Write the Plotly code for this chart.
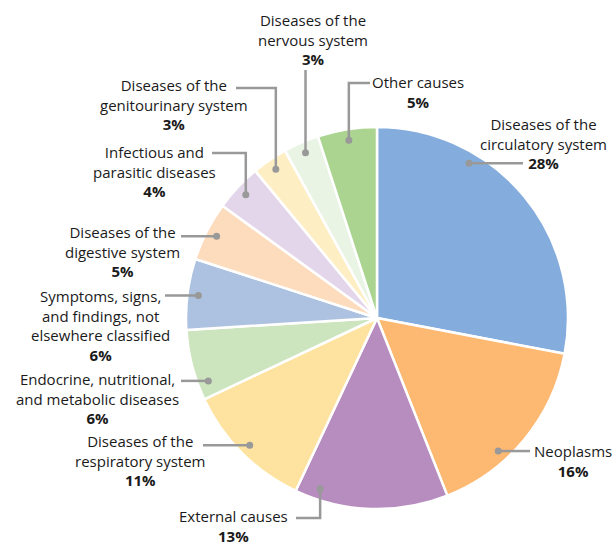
import math
import plotly.graph_objects as go

# ---------------- data ----------------
labels = [
    "Diseases of the circulatory system",
    "Neoplasms",
    "External causes",
    "Diseases of the respiratory system",
    "Endocrine, nutritional, and metabolic diseases",
    "Symptoms, signs, and findings, not elsewhere classified",
    "Diseases of the digestive system",
    "Infectious and parasitic diseases",
    "Diseases of the genitourinary system",
    "Diseases of the nervous system",
    "Other causes",
]
label_lines = [
    "Diseases of the<br>circulatory system",
    "Neoplasms",
    "External causes",
    "Diseases of the<br>respiratory system",
    "Endocrine, nutritional,<br>and metabolic diseases",
    "Symptoms, signs,<br>and findings, not<br>elsewhere classified",
    "Diseases of the<br>digestive system",
    "Infectious and<br>parasitic diseases",
    "Diseases of the<br>genitourinary system",
    "Diseases of the<br>nervous system",
    "Other causes",
]
values = [28, 16, 13, 11, 6, 6, 5, 4, 3, 3, 5]

# ---------------- styles ----------------
colors = ["#84ADDD", "#FDB871", "#B78DC0", "#FEE3A0", "#CDE5BE", "#ADC2E0",
          "#FDDCBD", "#E4D6EA", "#FEEEC4", "#EAF4E4", "#AAD490"]

W, H = 613, 544
CX, CY, R = 377, 318, 191
R_DOT = 180
LINE_COLOR = "#999999"
FONT = "Open Sans"
FONT_SIZE = 15

# label placement (pixels): position of dot within slice (0..1), text centre,
# horizontal-segment y (None -> dot y), end x of horizontal segment (None -> vertical only)
placement = [
    dict(pos=0.305, tx=543, ty=144, hy=None, ex=523),
    dict(pos=0.64,  tx=573, ty=461, hy=None, ex=530),
    dict(pos=0.855, tx=234, ty=526, hy=518,  ex=296),
    dict(pos=0.5,   tx=140, ty=460, hy=None, ex=203),
    dict(pos=0.22,  tx=97,  ty=398, hy=None, ex=181),
    dict(pos=0.5,   tx=100, ty=325, hy=None, ex=165),
    dict(pos=0.5,   tx=122, ty=251, hy=None, ex=181),
    dict(pos=0.5,   tx=154, ty=171, hy=153,  ex=212),
    dict(pos=0.5,   tx=174, ty=105, hy=88,   ex=236),
    dict(pos=0.5,   tx=313, ty=40,  hy=70,   ex=None),
    dict(pos=0.5,   tx=418, ty=92,  hy=83,   ex=370),
]


def px(x):
    return x / W


def py(y):
    return 1 - y / H


fig = go.Figure(go.Pie(
    labels=labels,
    values=values,
    sort=False,
    direction="clockwise",
    rotation=0,
    textinfo="none",
    hovertemplate="%{label}: %{value}%<extra></extra>",
    marker=dict(colors=colors, line=dict(color="white", width=2.5)),
    domain=dict(x=[px(CX - R), px(CX + R)], y=[py(CY + R), py(CY - R)]),
    showlegend=False,
))

total = sum(values)
shapes = []
annotations = []
cum = 0.0
for i, v in enumerate(values):
    p = placement[i]
    start = cum / total * 360
    end = (cum + v) / total * 360
    cum += v
    theta = math.radians(start + (end - start) * p["pos"])
    dx = CX + R_DOT * math.sin(theta)
    dy = CY - R_DOT * math.cos(theta)

    pts = [(dx, dy)]
    hy = dy if p["hy"] is None else p["hy"]
    if p["hy"] is not None:
        pts.append((dx, hy))
    if p["ex"] is not None:
        pts.append((p["ex"], hy))
    path = "M " + " L ".join(f"{px(a):.5f},{py(b):.5f}" for a, b in pts)
    shapes.append(dict(type="path", xref="paper", yref="paper", path=path,
                       line=dict(color=LINE_COLOR, width=2.5)))
    rd = 3.5
    shapes.append(dict(type="circle", xref="paper", yref="paper",
                       x0=px(dx - rd), x1=px(dx + rd), y0=py(dy + rd), y1=py(dy - rd),
                       fillcolor=LINE_COLOR, line=dict(width=0)))

    annotations.append(dict(
        x=px(p["tx"]), y=py(p["ty"]), xref="paper", yref="paper",
        xanchor="center", yanchor="middle", align="center", showarrow=False,
        text=f"{label_lines[i]}<br><b>{v}%</b>",
        font=dict(family=FONT, size=FONT_SIZE, color="#1a1a1a"),
    ))

fig.update_layout(
    width=W, height=H,
    margin=dict(l=0, r=0, t=0, b=0),
    paper_bgcolor="white",
    plot_bgcolor="white",
    shapes=shapes,
    annotations=annotations,
)

fig.write_html("out.html",
               config={"displayModeBar": False},
               post_script="document.body.style.margin='0';document.body.style.overflow='hidden';")
